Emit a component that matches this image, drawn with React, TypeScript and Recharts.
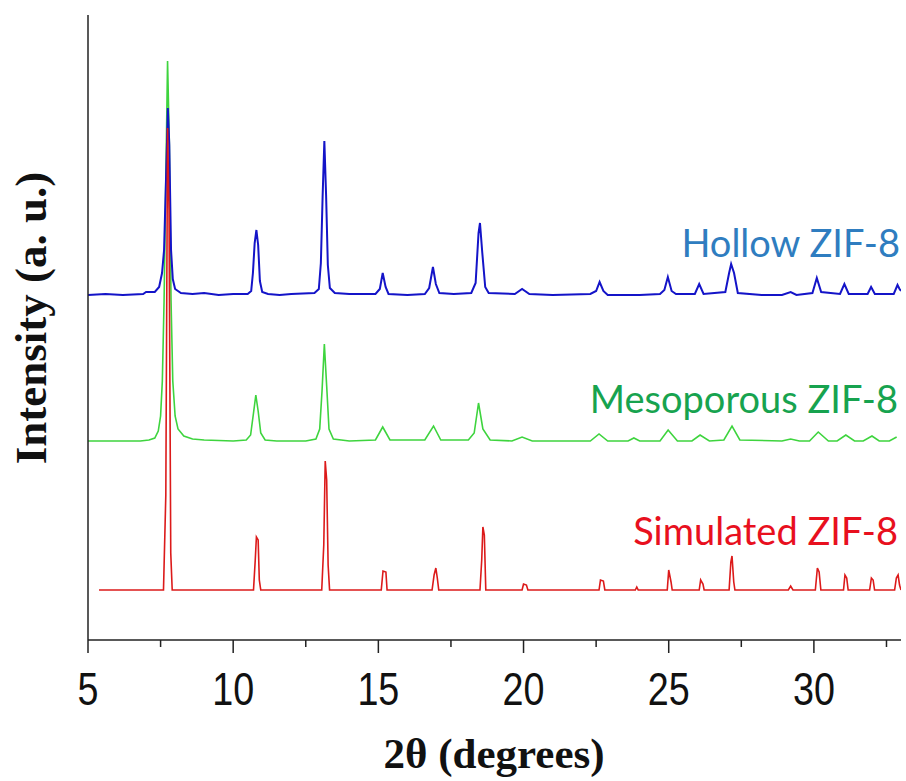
import React from 'react';
import { LineChart, Line, XAxis, YAxis, Label, Customized } from 'recharts';

// 2θ / intensity pairs (intensity above each trace's own baseline)
const hollowPoints: [number, number][] = [
  [5.0, 0], [5.6, 1], [6.2, 0], [6.9, 1], [7.0, 3], [7.3, 3], [7.45, 8], [7.55, 22], [7.62, 45],
  [7.7, 130], [7.75, 187], [7.8, 150], [7.86, 45], [7.92, 16], [8.0, 6], [8.2, 2], [8.6, 1],
  [9.0, 2], [9.5, 0], [10.0, 1], [10.5, 1], [10.62, 4], [10.68, 22], [10.74, 52], [10.8, 65],
  [10.86, 50], [10.92, 14], [11.0, 3], [11.2, 1], [11.6, 0], [12.0, 1], [12.8, 2], [12.95, 6],
  [13.02, 32], [13.08, 98], [13.14, 154], [13.2, 100], [13.26, 30], [13.33, 7], [13.5, 2],
  [14.0, 1], [14.9, 1], [15.05, 6], [15.15, 22], [15.25, 8], [15.35, 1], [16.0, 0], [16.6, 1],
  [16.75, 7], [16.88, 28], [16.98, 11], [17.1, 2], [17.6, 1], [18.2, 2], [18.35, 12],
  [18.45, 62], [18.5, 72], [18.58, 42], [18.68, 8], [18.8, 2], [19.7, 1], [19.95, 6], [20.2, 1],
  [21.0, 0], [22.3, 1], [22.5, 4], [22.62, 13], [22.75, 4], [22.9, 0], [24.0, 0], [24.7, 1],
  [24.85, 5], [24.97, 18], [25.1, 4], [25.25, 1], [25.9, 1], [26.05, 11], [26.2, 1], [26.95, 3],
  [27.08, 22], [27.15, 31], [27.25, 22], [27.38, 2], [28.2, 0], [28.9, 0], [29.2, 3], [29.4, 0],
  [29.95, 2], [30.1, 17], [30.25, 3], [30.9, 1], [31.05, 11], [31.2, 1], [31.85, 1], [31.97, 8],
  [32.1, 1], [32.75, 1], [32.88, 10], [32.95, 6], [33.0, 4],
];

const mesoporousPoints: [number, number][] = [
  [5.0, 0], [6.8, 0], [7.1, 1], [7.3, 3], [7.42, 10], [7.5, 25], [7.56, 60], [7.62, 140],
  [7.68, 260], [7.74, 380], [7.8, 300], [7.86, 140], [7.92, 60], [8.0, 25], [8.1, 12], [8.3, 5],
  [8.6, 2], [9.0, 1], [10.0, 0], [10.45, 1], [10.6, 6], [10.7, 28], [10.78, 46], [10.86, 30],
  [10.95, 8], [11.1, 1], [11.5, 0], [12.5, 0], [12.85, 2], [12.98, 12], [13.06, 50], [13.14, 97],
  [13.22, 55], [13.3, 12], [13.45, 2], [14.0, 0], [14.9, 1], [15.15, 14], [15.4, 1], [16.6, 1],
  [16.9, 15], [17.15, 1], [18.1, 1], [18.3, 8], [18.45, 38], [18.6, 12], [18.85, 1], [19.6, 0],
  [19.95, 4], [20.3, 0], [22.3, 0], [22.6, 7], [22.9, 0], [23.6, 0], [23.8, 3], [24.0, 0],
  [24.7, 0], [24.98, 11], [25.3, 0], [25.8, 0], [26.08, 6], [26.4, 0], [26.9, 1], [27.18, 15],
  [27.45, 1], [28.9, 0], [29.2, 2], [29.5, 0], [29.85, 0], [30.15, 9], [30.5, 0], [30.8, 0],
  [31.1, 6], [31.4, 0], [31.7, 0], [32.0, 5], [32.25, 0], [32.6, 0], [32.85, 4],
];

const simulatedPoints: [number, number][] = [
  [5.38, 0], [7.6, 0], [7.68, 95], [7.74, 462], [7.79, 380], [7.85, 37], [7.9, 0], [10.7, 0],
  [10.76, 30], [10.8, 53], [10.86, 50], [10.9, 10], [10.95, 0], [13.05, 0], [13.12, 45],
  [13.17, 129], [13.22, 110], [13.27, 25], [13.32, 0], [15.1, 0], [15.16, 19], [15.26, 18],
  [15.3, 0], [16.85, 0], [16.92, 15], [16.98, 22], [17.03, 12], [17.08, 0], [18.5, 0],
  [18.56, 30], [18.6, 63], [18.65, 55], [18.7, 0], [19.95, 0], [20.0, 6], [20.1, 5], [20.15, 0],
  [22.6, 0], [22.65, 10], [22.75, 9], [22.8, 0], [23.85, 0], [23.9, 3], [23.95, 0], [24.95, 0],
  [25.0, 20], [25.08, 8], [25.12, 0], [26.05, 0], [26.1, 10], [26.18, 6], [26.22, 0], [27.08, 0],
  [27.14, 28], [27.18, 34], [27.24, 8], [27.28, 0], [29.12, 0], [29.2, 4], [29.28, 0],
  [30.05, 0], [30.12, 22], [30.18, 18], [30.24, 0], [31.02, 0], [31.07, 15], [31.13, 12],
  [31.18, 0], [31.92, 0], [31.98, 12], [32.04, 10], [32.09, 0], [32.78, 0], [32.84, 12],
  [32.9, 15], [32.95, 5], [33.0, 0],
];

// vertical offsets of the stacked traces
const hollowOffset = 345;
const mesoporousOffset = 199;
const simulatedOffset = 50;

const xTicks = [5, 7.5, 10, 12.5, 15, 17.5, 20, 22.5, 25, 27.5, 30, 32.5];

const toRows = (pts: [number, number][], offset: number) =>
  pts.map(([x, y]) => ({ x, y: y + offset }));

const hollowData = toRows(hollowPoints, hollowOffset);
const mesoporousData = toRows(mesoporousPoints, mesoporousOffset);
const simulatedData = toRows(simulatedPoints, simulatedOffset);

const XTick = (props: any) => {
  const { x, y, payload } = props;
  const major = payload.value % 5 === 0;
  return (
    <g transform={`translate(${x},${y})`}>
      <line x1={0} x2={0} y1={0} y2={major ? 13 : 7} stroke="#222" strokeWidth={1.5} />
      {major && (
        <text
          y={65}
          textAnchor="middle"
          transform="scale(0.82,1)"
          fontFamily="Liberation Sans, Arial, sans-serif"
          fontSize={46}
          fill="#111"
        >
          {payload.value}
        </text>
      )}
    </g>
  );
};

const SeriesLabels = () => (
  <g fontFamily="Lato, 'Open Sans', sans-serif" fontSize={38} textAnchor="end">
    <text x={900} y={257} fill="#2f7dc0">Hollow ZIF-8</text>
    <text x={898} y={413} fill="#17a34f">Mesoporous ZIF-8</text>
    <text x={898} y={545} fill="#e8101e">Simulated ZIF-8</text>
  </g>
);

export default function App() {
  return (
    <div style={{ position: 'absolute', left: 0, top: 0 }}>
      <LineChart width={906} height={781} margin={{ top: 15, right: 5, left: 0, bottom: 0 }}>
        <XAxis
          type="number"
          dataKey="x"
          domain={[5, 33]}
          allowDataOverflow
          ticks={xTicks}
          interval={0}
          tick={<XTick />}
          tickLine={false}
          tickSize={0}
          tickMargin={0}
          height={141}
          axisLine={{ stroke: '#222', strokeWidth: 1.5 }}
        >
          <Label
            content={() => (
              <text
                x={494}
                y={768}
                textAnchor="middle"
                fontFamily="Liberation Serif, 'Times New Roman', serif"
                fontWeight="bold"
                fontSize={43}
                fill="#111"
              >
                2θ (degrees)
              </text>
            )}
          />
        </XAxis>
        <YAxis
          type="number"
          domain={[0, 625]}
          allowDataOverflow
          width={88}
          tick={false}
          tickLine={false}
          axisLine={{ stroke: '#222', strokeWidth: 1.5 }}
        >
          <Label
            content={() => (
              <text
                transform="translate(46,318) rotate(-90)"
                textAnchor="middle"
                fontFamily="Liberation Serif, 'Times New Roman', serif"
                fontWeight="bold"
                fontSize={45}
                fill="#111"
              >
                Intensity (a. u.)
              </text>
            )}
          />
        </YAxis>
        <Line
          data={mesoporousData}
          dataKey="y"
          type="linear"
          stroke="#3ed43e"
          strokeWidth={1.6}
          dot={false}
          activeDot={false}
          isAnimationActive={false}
        />
        <Line
          data={hollowData}
          dataKey="y"
          type="linear"
          stroke="#1414c8"
          strokeWidth={2}
          dot={false}
          activeDot={false}
          isAnimationActive={false}
        />
        <Line
          data={simulatedData}
          dataKey="y"
          type="linear"
          stroke="#dc1a1a"
          strokeWidth={1.6}
          dot={false}
          activeDot={false}
          isAnimationActive={false}
        />
        <Customized component={SeriesLabels} />
      </LineChart>
    </div>
  );
}
